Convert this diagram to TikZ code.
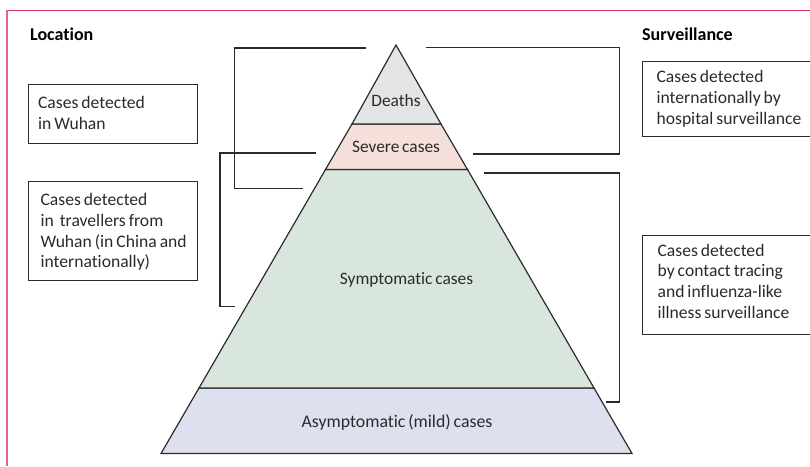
\documentclass[tikz,border=0pt]{standalone}
\usepackage{fontspec}
\setmainfont{Carlito}[WordSpace=0.7,Ligatures=NoCommon]
\definecolor{ink}{HTML}{2B2B2B}
\definecolor{deathfill}{HTML}{E2E4E6}
\definecolor{severefill}{HTML}{F4DFDA}
\definecolor{sympfill}{HTML}{D9E6DE}
\definecolor{asymfill}{HTML}{DDE0EE}
\definecolor{frametop}{HTML}{D8345F}
\definecolor{frameleft}{HTML}{E0688C}
\tikzset{
  infobox/.style={draw=ink,line width=1.2pt,fill=white,anchor=north west,align=left,inner ysep=0pt,font=\fontsize{17.6}{20.8}\selectfont,text=ink,execute at begin node={\spaceskip=0.17em\relax}},
  layer/.style={draw=ink,line width=1.2pt,line join=miter},
  layertext/.style={font=\fontsize{17.4}{18}\selectfont,text=ink,inner sep=0pt},
  head/.style={font=\bfseries\fontsize{18}{18}\selectfont,text=black,inner sep=0pt,anchor=base west},
  bracket/.style={draw=ink,line width=1.2pt,line join=miter}
}
\begin{document}
\begin{tikzpicture}[x=1pt,y=-1pt]
\useasboundingbox (0,0) rectangle (810,466);
% frame
\draw[frametop,line width=1.2pt] (7,10.5) -- (810,10.5);
\draw[frameleft,line width=1.2pt] (7,10) -- (7,466);
% pyramid layers
\coordinate (apex) at (396,45);
\coordinate (dl) at (352,124); \coordinate (dr) at (441,124);
\coordinate (sl) at (325.5,169.5); \coordinate (sr) at (467.5,169.5);
\coordinate (gl) at (199,388); \coordinate (gr) at (594,388);
\coordinate (bl) at (161,453.5); \coordinate (br) at (632,453.5);
\draw[layer,fill=asymfill] (gl) -- (gr) -- (br) -- (bl) -- cycle;
\draw[layer,fill=sympfill] (sl) -- (sr) -- (gr) -- (gl) -- cycle;
\draw[layer,fill=severefill] (dl) -- (dr) -- (sr) -- (sl) -- cycle;
\draw[layer,fill=deathfill] (apex) -- (dr) -- (dl) -- cycle;
% layer labels
\node[layertext] (deaths) at (396,100.5) {Deaths};
\node[layertext] (severe) at (396,146.5) {Severe cases};
\node[layertext] (symp) at (406.5,280) {Symptomatic cases};
\node[layertext,font=\fontsize{17.8}{18}\selectfont] (asym) at (397,422.5) {Asymptomatic (mild) cases};
% headings
\node[head] (loc) at (30,40) {Location};
\node[head] (surv) at (642,40) {Surveillance};
% boxes
\node[infobox,minimum width=169pt,minimum height=58.5pt,text width=150pt,inner xsep=9pt] (wuhan) at (28,84) {Cases detected\\in Wuhan\rule[-2pt]{0pt}{1pt}};
\node[infobox,minimum width=169pt,minimum height=99pt,text width=150pt,inner xsep=9.5pt] (travel) at (28,180.5) {\rule{0pt}{15pt}\hspace{2.5pt}Cases detected\\\hspace{2.5pt}in\ \ travellers from\\\hspace{2.5pt}Wuhan (in China and\\\hspace{2.5pt}internationally)};
\node[infobox,minimum width=175pt,minimum height=75pt,text width=147pt,inner xsep=14pt] (hosp) at (642,61) {Cases detected\\internationally by\\hospital surveillance};
\node[infobox,minimum width=175pt,minimum height=99pt,text width=147pt,inner xsep=15pt] (contact) at (642,234.5) {Cases detected\\by contact tracing\\and influenza-like\\illness surveillance\rule[-7pt]{0pt}{1pt}};
% brackets
\coordinate (a1) at (366,48); \coordinate (a2) at (303,188.5);
\draw[bracket] (a1) -- (234.5,48) -- (234.5,188.5) -- (a2);
\coordinate (b1) at (316,153); \coordinate (b2) at (235,306.5);
\draw[bracket] (b1) -- (220,153) -- (220,306.5) -- (b2);
\coordinate (c1) at (426,47.5); \coordinate (c2) at (473,154);
\draw[bracket] (c1) -- (619.5,47.5) -- (619.5,154) -- (c2);
\coordinate (d1) at (484,173); \coordinate (d2) at (606,402);
\draw[bracket] (d1) -- (619.5,173) -- (619.5,402) -- (d2);
\end{tikzpicture}
\end{document}
